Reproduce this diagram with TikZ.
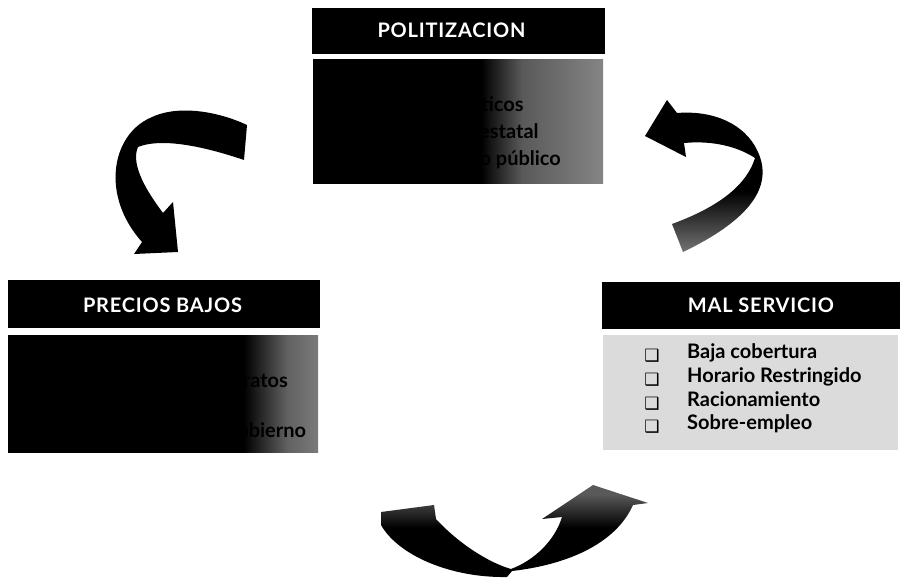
\documentclass[tikz,border=0pt]{standalone}
\usepackage{fontspec}
\setmainfont{Lato}
\newfontfamily\symf{DejaVu Sans}
\pgfdeclarehorizontalshading{politshade}{100bp}{color(0bp)=(black); color(54bp)=(black); color(61bp)=(black!65); color(75bp)=(black!48); color(100bp)=(black!48)}
\pgfdeclarehorizontalshading{precshade}{100bp}{color(0bp)=(black); color(63bp)=(black); color(70bp)=(black!62); color(75bp)=(black!52); color(100bp)=(black!52)}
\pgfdeclareverticalshading{trshade}{100bp}{color(0bp)=(black!55); color(25bp)=(black!55); color(45bp)=(black); color(100bp)=(black)}
\pgfdeclareverticalshading{btshade}{100bp}{color(0bp)=(black); color(52bp)=(black); color(70bp)=(black!65); color(100bp)=(black!65)}
\begin{document}
\begin{tikzpicture}[x=1pt,y=-1pt,
  hdr/.style={fill=black, inner sep=0pt},
  hdrtext/.style={text=white, inner sep=0pt, font=\fontsize{20}{20}\selectfont\bfseries\addfontfeature{LetterSpace=4}},
  cbox/.style={inner sep=0pt, draw=none},
  item/.style={anchor=mid west, inner sep=0pt, font=\fontsize{20}{20}\selectfont\bfseries},
  bul/.style={inner sep=0pt, font=\symf\fontsize{17}{17}\selectfont}
]
\useasboundingbox (0,0) rectangle (902,578);
\fill[white] (0,0) rectangle (902,578);

% POLITIZACION
\node[hdr, minimum width=293pt, minimum height=46pt] (polh) at (458.5,31) {};
\node[hdrtext] (polt) at (451.5,30) {POLITIZACION};
\node[cbox, shade, shading=politshade, minimum width=290pt, minimum height=123pt] (polb) at (458,121.5) {};
\node[bul] (pb1) at (330,82) {❑};
\node[bul] (pb2) at (330,109) {❑};
\node[bul] (pb3) at (330,136) {❑};
\node[bul] (pb4) at (330,163) {❑};
\node[item] (pi1) at (362,82) {Populismo};
\node[item] (pi2) at (362,109) {Intereses políticos};
\node[item] (pi3) at (362,136) {Intervención estatal};
\node[item] (pi4) at (362,163) {Falta de apoyo público};

% PRECIOS BAJOS
\node[hdr, minimum width=312pt, minimum height=48pt] (preh) at (164,304) {};
\node[hdrtext] (pret) at (162.5,305) {PRECIOS BAJOS};
\node[cbox, shade, shading=precshade, minimum width=310pt, minimum height=117pt] (preb) at (163,393.5) {};
\node[bul] (rb1) at (28,360) {❑};
\node[bul] (rb2) at (28,385) {❑};
\node[bul] (rb3) at (28,410) {❑};
\node[bul] (rb4) at (28,435) {❑};
\node[item] (ri1) at (58,360) {Tarifas subsidiadas};
\node[item] (ri2) at (58,385) {Servicios públicos baratos};
\node[item] (ri3) at (58,410) {Pérdidas financieras};
\node[item] (ri4) at (58,435) {Transferencias del Gobierno};

% MAL SERVICIO
\node[hdr, minimum width=298pt, minimum height=47pt] (malh) at (751,305.5) {};
\node[hdrtext] (malt) at (761,305) {MAL SERVICIO};
\node[cbox, fill=black!14, minimum width=295pt, minimum height=115pt] (malb) at (750.5,392.5) {};
\node[bul] (mb1) at (652,356) {❑};
\node[bul] (mb2) at (652,380) {❑};
\node[bul] (mb3) at (652,404) {❑};
\node[bul] (mb4) at (652,427) {❑};
\node[item] (mi1) at (687,356) {Baja cobertura};
\node[item] (mi2) at (687,380) {Horario Restringido};
\node[item] (mi3) at (687,404) {Racionamiento};
\node[item] (mi4) at (687,427) {Sobre-empleo};

% top-left arrow (POLITIZACION -> PRECIOS BAJOS)
\fill[black] (247,125) .. controls (215,110) and (175,105) .. (150,118)
  .. controls (112,135) and (100,195) .. (142,242)
  -- (134,254) -- (178,252) -- (173,202) -- (163,213)
  .. controls (148,193) and (130,165) .. (138,147)
  .. controls (160,138) and (200,145) .. (244,160) -- cycle;

% top-right arrow (MAL SERVICIO -> POLITIZACION)
\shade[shading=trshade] (677,113) .. controls (715,110) and (745,125) .. (757,150)
  .. controls (772,180) and (760,215) .. (683,252)
  -- (672,224) .. controls (710,210) and (745,190) .. (755,158)
  .. controls (740,148) and (715,140) .. (684,143)
  -- (686,157) -- (645,136) -- (667,100) -- cycle;

% bottom arrow (PRECIOS BAJOS -> MAL SERVICIO)
\shade[shading=btshade] (381,512) -- (434,505) -- (436,519)
  .. controls (460,545) and (490,563) .. (511,569)
  .. controls (535,560) and (555,540) .. (562,517)
  -- (542,519) -- (593,485) -- (648,503) -- (633,505)
  .. controls (615,545) and (565,565) .. (512,571)
  -- (507,577) .. controls (450,578) and (398,555) .. (381,525) -- cycle;
\end{tikzpicture}
\end{document}
